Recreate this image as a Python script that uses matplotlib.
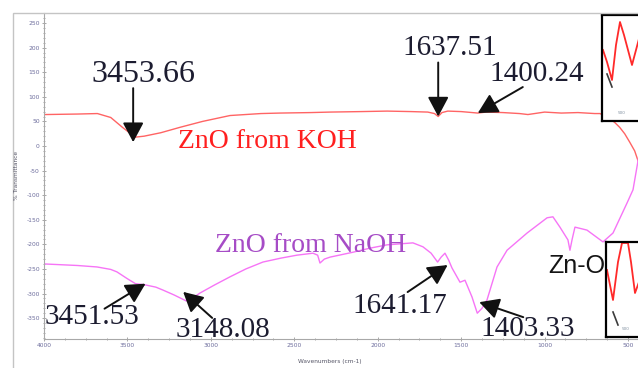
import numpy as np
import matplotlib
matplotlib.use("Agg")
import matplotlib.pyplot as plt
from matplotlib.ticker import MultipleLocator, AutoMinorLocator
from matplotlib.transforms import offset_copy
from matplotlib.patches import Rectangle

# FTIR spectra of ZnO prepared with KOH and NaOH
plt.rcParams["axes.unicode_minus"] = False

# Wavenumber (cm-1) and transmittance for ZnO from KOH
koh_wn = [3990, 3800, 3680, 3600, 3530, 3453.66, 3400, 3300, 3185, 3050, 2885, 2700,
          2586, 2400, 2286, 2100, 1944, 1800, 1700, 1660, 1637.51, 1615, 1580, 1500,
          1400.24, 1350, 1250, 1150, 1100, 1000, 900, 800, 700, 668, 620, 580, 550,
          520, 490, 460, 440, 420]
koh_t = [64, 65, 66, 58, 38, 18, 20, 27, 38, 50, 62, 66,
         67, 68, 69, 70, 71, 70, 69, 66, 60, 68, 71, 70,
         67, 69, 68, 66, 64, 69, 67, 68, 66, 66, 58, 48, 38,
         25, 8, -10, -30, -60]

# Wavenumber (cm-1) and transmittance for ZnO from NaOH
naoh_wn = [3990, 3800, 3682, 3600, 3563, 3500, 3451.53, 3400, 3330, 3287, 3220, 3148.08,
           3100, 3065, 2980, 2885, 2790, 2688, 2580, 2484, 2388, 2360, 2346, 2320, 2286,
           2148, 2050, 1944, 1789, 1729, 1680, 1641.17, 1620, 1597, 1575, 1555, 1507,
           1477, 1435, 1403.33, 1375, 1345, 1285, 1225, 1105, 985, 950, 908, 860, 848,
           835, 818, 746, 650, 620, 590, 506, 470, 440, 420]
naoh_t = [-240, -243, -246, -251, -256, -270, -280, -282, -287, -293, -303, -315,
          -307, -299, -283, -266, -250, -236, -228, -222, -218, -222, -238, -230, -226,
          -216, -208, -201, -197, -205, -218, -236, -226, -218, -232, -248, -277,
          -273, -307, -340, -330, -313, -246, -212, -177, -146, -144, -165, -191, -212,
          -190, -165, -171, -195, -186, -177, -116, -89, -30, 10]

# Zoomed Zn-O band shown in the two small boxes
top_zoom_x = [1, 5, 10, 14, 18, 22, 26, 30, 34, 38]
top_zoom_y = [-35, -47, -65, -30, -7, -20, -35, -50, -35, -20]
bot_zoom_x = [1, 7, 12, 16, 22, 25, 29, 33, 38]
bot_zoom_y = [-28, -58, -20, -1, -1, -20, -51, -40, -20]

# Peak labels: text, series, wavenumber
peaks = [("3453.66", "koh", 3453.66), ("1637.51", "koh", 1637.51), ("1400.24", "koh", 1400.24),
         ("3451.53", "naoh", 3451.53), ("3148.08", "naoh", 3148.08),
         ("1641.17", "naoh", 1641.17), ("1403.33", "naoh", 1403.33)]

# tip nudge, arrow tail and label centre, in pixels from the tip
peak_offsets = {
    "3453.66": ((-2, -5), (0, 54), (10, 68), 23),
    "1637.51": ((0, 0), (0, 54), (12, 69), 21),
    "1400.24": ((0, 0), (45, 26), (59, 39), 21),
    "3451.53": ((10, 0), (-41, -25), (-54, -33), 21),
    "3148.08": ((-3, 9), (29, -26), (40, -38), 21),
    "1641.17": ((10, -3), (-40, -27), (-48, -41), 21),
    "1403.33": ((2, 11), (44, -15), (48, -27), 21),
}

W, H = 638, 368
fig = plt.figure(figsize=(W / 100, H / 100), dpi=100)
fig.patch.set_facecolor("white")

# light grey outer frame
fig.add_artist(Rectangle((13 / W, -0.1), 1.2, (H - 13) / H + 0.1, transform=fig.transFigure,
                         fill=False, ec="#c4c4c4", lw=1.0))

ax = fig.add_axes([44 / W, 29 / H, 600.7 / W, 326 / H])
ax.plot(koh_wn, koh_t, color="#ff6464", lw=1.0)
ax.plot(naoh_wn, naoh_t, color="#f674f6", lw=1.0)
ax.set_xlim(4000, 400)
ax.set_ylim(-392.5, 270.5)

ax.xaxis.set_major_locator(MultipleLocator(500))
ax.xaxis.set_minor_locator(AutoMinorLocator(4))
ax.yaxis.set_major_locator(MultipleLocator(50))
ax.yaxis.set_minor_locator(AutoMinorLocator(5))
ax.set_yticks(np.arange(-350, 251, 50))
ax.tick_params(which="both", direction="inout", colors="#9a9a9a", labelcolor="#6c6c9c",
               labelsize=4.3, width=0.6, pad=1.5)
ax.tick_params(which="major", length=3)
ax.tick_params(which="minor", length=2)
for side in ["top", "right"]:
    ax.spines[side].set_visible(False)
for side in ["left", "bottom"]:
    ax.spines[side].set_color("#a8a8a8")
    ax.spines[side].set_linewidth(0.8)

fig.text(17 / W, 1 - 175 / H, "% Transmittance", rotation=90, fontsize=4.2,
         color="#555566", ha="center", va="center")
fig.text(330 / W, 1 - 362 / H, "Wavenumbers (cm-1)", fontsize=4.2,
         color="#555566", ha="center", va="center")

# series labels
ax.text(3197, -4, "ZnO from KOH", family="Liberation Serif", fontsize=20, color="#ff1f1f")
ax.text(2975, -216, "ZnO from NaOH", family="Liberation Serif", fontsize=20, color="#a64cc6")
ax.text(980, -258, "Zn-O", family="Liberation Sans", fontsize=18, color="#141414")

# peak arrows and values
series = {"koh": (koh_wn, koh_t), "naoh": (naoh_wn, naoh_t)}
for label, name, wn in peaks:
    xs, ys = series[name]
    t = np.interp(wn, xs[::-1], ys[::-1])
    nudge, tail, centre, size = peak_offsets[label]
    tip = offset_copy(ax.transData, fig=fig, x=nudge[0], y=nudge[1], units="dots")
    ax.annotate("", xy=(wn, t), xycoords=tip, xytext=tail, textcoords="offset pixels",
                arrowprops=dict(arrowstyle="-|>,head_length=0.6,head_width=0.32",
                                mutation_scale=20, color="#111111", lw=1.4,
                                shrinkA=0, shrinkB=0))
    ax.annotate(label, xy=(wn, t), xycoords=tip, xytext=centre, textcoords="offset pixels",
                ha="center", va="center", family="Liberation Serif", fontsize=size,
                color="#1c1c30")

# small boxes with the zoomed Zn-O band
for box, zx, zy, top in [((602, 121, 60, 106), top_zoom_x, top_zoom_y, 106),
                         ((606, 337, 60, 95), bot_zoom_x, bot_zoom_y, 95)]:
    left, bottom, w, h = box
    ins = fig.add_axes([left / W, (H - bottom) / H, w / W, h / H])
    ins.plot(zx, zy, color="#ff2a2a", lw=1.3)
    ins.plot(zx[1:3], [zy[1] - 12, zy[1] - 25], color="#3c3c3c", lw=1.2)
    ins.text(20, -top + 8, "500", fontsize=3, color="#8090a0", ha="center", va="center")
    ins.set_xlim(0, 60)
    ins.set_ylim(-top, 0)
    ins.set_xticks([])
    ins.set_yticks([])
    for s in ins.spines.values():
        s.set_color("black")
        s.set_linewidth(1.6)

fig.savefig("out.png", dpi=100)
